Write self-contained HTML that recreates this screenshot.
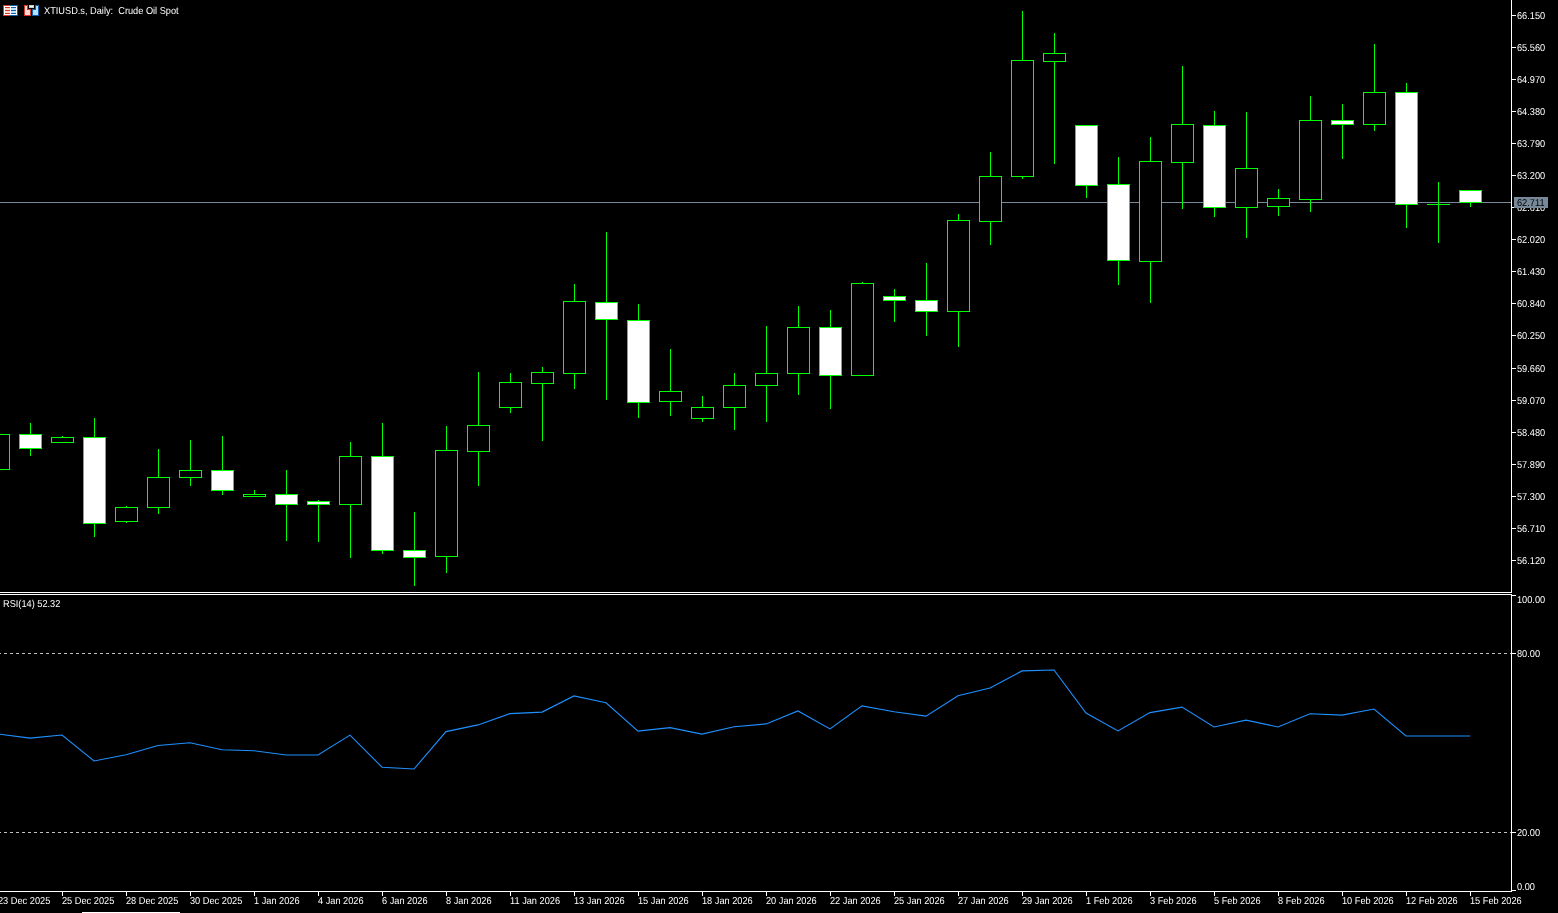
<!DOCTYPE html>
<html lang="en"><head><meta charset="utf-8"><title>XTIUSD.s, Daily: Crude Oil Spot</title>
<style>html,body{margin:0;padding:0;background:#000;overflow:hidden}svg{display:block}text{font-family:"Liberation Sans",sans-serif;font-size:10px;fill:#fff;text-rendering:geometricPrecision}</style></head><body>
<svg width="1558" height="913" viewBox="0 0 1558 913" shape-rendering="crispEdges">
<rect x="0" y="0" width="1558" height="913" fill="#000"/>
<rect x="0" y="202" width="1511" height="1" fill="#778899"/>
<g id="candles">
<rect x="-13" y="434" width="23" height="36" fill="#00ff00"/>
<rect x="-12" y="435" width="21" height="34" fill="#000"/>
<rect x="30" y="423" width="1" height="11" fill="#00ff00"/>
<rect x="30" y="449" width="1" height="7" fill="#00ff00"/>
<rect x="19" y="434" width="23" height="15" fill="#00ff00"/>
<rect x="20" y="435" width="21" height="13" fill="#fff"/>
<rect x="62" y="436" width="1" height="1" fill="#00ff00"/>
<rect x="51" y="437" width="23" height="6" fill="#00ff00"/>
<rect x="52" y="438" width="21" height="4" fill="#000"/>
<rect x="94" y="418" width="1" height="19" fill="#00ff00"/>
<rect x="94" y="524" width="1" height="13" fill="#00ff00"/>
<rect x="83" y="437" width="23" height="87" fill="#00ff00"/>
<rect x="84" y="438" width="21" height="85" fill="#fff"/>
<rect x="126" y="506" width="1" height="1" fill="#00ff00"/>
<rect x="126" y="522" width="1" height="1" fill="#00ff00"/>
<rect x="115" y="507" width="23" height="15" fill="#00ff00"/>
<rect x="116" y="508" width="21" height="13" fill="#000"/>
<rect x="158" y="449" width="1" height="28" fill="#00ff00"/>
<rect x="158" y="508" width="1" height="6" fill="#00ff00"/>
<rect x="147" y="477" width="23" height="31" fill="#00ff00"/>
<rect x="148" y="478" width="21" height="29" fill="#000"/>
<rect x="190" y="440" width="1" height="30" fill="#00ff00"/>
<rect x="190" y="478" width="1" height="8" fill="#00ff00"/>
<rect x="179" y="470" width="23" height="8" fill="#00ff00"/>
<rect x="180" y="471" width="21" height="6" fill="#000"/>
<rect x="222" y="436" width="1" height="34" fill="#00ff00"/>
<rect x="222" y="491" width="1" height="4" fill="#00ff00"/>
<rect x="211" y="470" width="23" height="21" fill="#00ff00"/>
<rect x="212" y="471" width="21" height="19" fill="#fff"/>
<rect x="254" y="490" width="1" height="4" fill="#00ff00"/>
<rect x="243" y="494" width="23" height="3" fill="#00ff00"/>
<rect x="244" y="495" width="21" height="1" fill="#000"/>
<rect x="286" y="470" width="1" height="24" fill="#00ff00"/>
<rect x="286" y="505" width="1" height="36" fill="#00ff00"/>
<rect x="275" y="494" width="23" height="11" fill="#00ff00"/>
<rect x="276" y="495" width="21" height="9" fill="#fff"/>
<rect x="318" y="500" width="1" height="1" fill="#00ff00"/>
<rect x="318" y="505" width="1" height="37" fill="#00ff00"/>
<rect x="307" y="501" width="23" height="4" fill="#00ff00"/>
<rect x="308" y="502" width="21" height="2" fill="#fff"/>
<rect x="350" y="442" width="1" height="14" fill="#00ff00"/>
<rect x="350" y="505" width="1" height="53" fill="#00ff00"/>
<rect x="339" y="456" width="23" height="49" fill="#00ff00"/>
<rect x="340" y="457" width="21" height="47" fill="#000"/>
<rect x="382" y="423" width="1" height="33" fill="#00ff00"/>
<rect x="382" y="551" width="1" height="3" fill="#00ff00"/>
<rect x="371" y="456" width="23" height="95" fill="#00ff00"/>
<rect x="372" y="457" width="21" height="93" fill="#fff"/>
<rect x="414" y="512" width="1" height="38" fill="#00ff00"/>
<rect x="414" y="558" width="1" height="28" fill="#00ff00"/>
<rect x="403" y="550" width="23" height="8" fill="#00ff00"/>
<rect x="404" y="551" width="21" height="6" fill="#fff"/>
<rect x="446" y="426" width="1" height="24" fill="#00ff00"/>
<rect x="446" y="557" width="1" height="16" fill="#00ff00"/>
<rect x="435" y="450" width="23" height="107" fill="#00ff00"/>
<rect x="436" y="451" width="21" height="105" fill="#000"/>
<rect x="478" y="372" width="1" height="53" fill="#00ff00"/>
<rect x="478" y="452" width="1" height="34" fill="#00ff00"/>
<rect x="467" y="425" width="23" height="27" fill="#00ff00"/>
<rect x="468" y="426" width="21" height="25" fill="#000"/>
<rect x="510" y="373" width="1" height="9" fill="#00ff00"/>
<rect x="510" y="408" width="1" height="5" fill="#00ff00"/>
<rect x="499" y="382" width="23" height="26" fill="#00ff00"/>
<rect x="500" y="383" width="21" height="24" fill="#000"/>
<rect x="542" y="367" width="1" height="5" fill="#00ff00"/>
<rect x="542" y="384" width="1" height="57" fill="#00ff00"/>
<rect x="531" y="372" width="23" height="12" fill="#00ff00"/>
<rect x="532" y="373" width="21" height="10" fill="#000"/>
<rect x="574" y="284" width="1" height="17" fill="#00ff00"/>
<rect x="574" y="374" width="1" height="15" fill="#00ff00"/>
<rect x="563" y="301" width="23" height="73" fill="#00ff00"/>
<rect x="564" y="302" width="21" height="71" fill="#000"/>
<rect x="606" y="232" width="1" height="70" fill="#00ff00"/>
<rect x="606" y="320" width="1" height="80" fill="#00ff00"/>
<rect x="595" y="302" width="23" height="18" fill="#00ff00"/>
<rect x="596" y="303" width="21" height="16" fill="#fff"/>
<rect x="638" y="304" width="1" height="16" fill="#00ff00"/>
<rect x="638" y="403" width="1" height="15" fill="#00ff00"/>
<rect x="627" y="320" width="23" height="83" fill="#00ff00"/>
<rect x="628" y="321" width="21" height="81" fill="#fff"/>
<rect x="670" y="349" width="1" height="42" fill="#00ff00"/>
<rect x="670" y="402" width="1" height="14" fill="#00ff00"/>
<rect x="659" y="391" width="23" height="11" fill="#00ff00"/>
<rect x="660" y="392" width="21" height="9" fill="#000"/>
<rect x="702" y="396" width="1" height="11" fill="#00ff00"/>
<rect x="702" y="419" width="1" height="3" fill="#00ff00"/>
<rect x="691" y="407" width="23" height="12" fill="#00ff00"/>
<rect x="692" y="408" width="21" height="10" fill="#000"/>
<rect x="734" y="373" width="1" height="12" fill="#00ff00"/>
<rect x="734" y="408" width="1" height="22" fill="#00ff00"/>
<rect x="723" y="385" width="23" height="23" fill="#00ff00"/>
<rect x="724" y="386" width="21" height="21" fill="#000"/>
<rect x="766" y="326" width="1" height="47" fill="#00ff00"/>
<rect x="766" y="386" width="1" height="36" fill="#00ff00"/>
<rect x="755" y="373" width="23" height="13" fill="#00ff00"/>
<rect x="756" y="374" width="21" height="11" fill="#000"/>
<rect x="798" y="306" width="1" height="21" fill="#00ff00"/>
<rect x="798" y="374" width="1" height="21" fill="#00ff00"/>
<rect x="787" y="327" width="23" height="47" fill="#00ff00"/>
<rect x="788" y="328" width="21" height="45" fill="#000"/>
<rect x="830" y="310" width="1" height="17" fill="#00ff00"/>
<rect x="830" y="376" width="1" height="33" fill="#00ff00"/>
<rect x="819" y="327" width="23" height="49" fill="#00ff00"/>
<rect x="820" y="328" width="21" height="47" fill="#fff"/>
<rect x="862" y="282" width="1" height="1" fill="#00ff00"/>
<rect x="851" y="283" width="23" height="93" fill="#00ff00"/>
<rect x="852" y="284" width="21" height="91" fill="#000"/>
<rect x="894" y="289" width="1" height="7" fill="#00ff00"/>
<rect x="894" y="301" width="1" height="21" fill="#00ff00"/>
<rect x="883" y="296" width="23" height="5" fill="#00ff00"/>
<rect x="884" y="297" width="21" height="3" fill="#fff"/>
<rect x="926" y="263" width="1" height="37" fill="#00ff00"/>
<rect x="926" y="312" width="1" height="24" fill="#00ff00"/>
<rect x="915" y="300" width="23" height="12" fill="#00ff00"/>
<rect x="916" y="301" width="21" height="10" fill="#fff"/>
<rect x="958" y="214" width="1" height="6" fill="#00ff00"/>
<rect x="958" y="312" width="1" height="35" fill="#00ff00"/>
<rect x="947" y="220" width="23" height="92" fill="#00ff00"/>
<rect x="948" y="221" width="21" height="90" fill="#000"/>
<rect x="990" y="152" width="1" height="24" fill="#00ff00"/>
<rect x="990" y="222" width="1" height="23" fill="#00ff00"/>
<rect x="979" y="176" width="23" height="46" fill="#00ff00"/>
<rect x="980" y="177" width="21" height="44" fill="#000"/>
<rect x="1022" y="11" width="1" height="49" fill="#00ff00"/>
<rect x="1022" y="177" width="1" height="2" fill="#00ff00"/>
<rect x="1011" y="60" width="23" height="117" fill="#00ff00"/>
<rect x="1012" y="61" width="21" height="115" fill="#000"/>
<rect x="1054" y="33" width="1" height="20" fill="#00ff00"/>
<rect x="1054" y="62" width="1" height="102" fill="#00ff00"/>
<rect x="1043" y="53" width="23" height="9" fill="#00ff00"/>
<rect x="1044" y="54" width="21" height="7" fill="#000"/>
<rect x="1086" y="186" width="1" height="12" fill="#00ff00"/>
<rect x="1075" y="125" width="23" height="61" fill="#00ff00"/>
<rect x="1076" y="126" width="21" height="59" fill="#fff"/>
<rect x="1118" y="157" width="1" height="27" fill="#00ff00"/>
<rect x="1118" y="261" width="1" height="24" fill="#00ff00"/>
<rect x="1107" y="184" width="23" height="77" fill="#00ff00"/>
<rect x="1108" y="185" width="21" height="75" fill="#fff"/>
<rect x="1150" y="137" width="1" height="24" fill="#00ff00"/>
<rect x="1150" y="262" width="1" height="41" fill="#00ff00"/>
<rect x="1139" y="161" width="23" height="101" fill="#00ff00"/>
<rect x="1140" y="162" width="21" height="99" fill="#000"/>
<rect x="1182" y="66" width="1" height="58" fill="#00ff00"/>
<rect x="1182" y="163" width="1" height="46" fill="#00ff00"/>
<rect x="1171" y="124" width="23" height="39" fill="#00ff00"/>
<rect x="1172" y="125" width="21" height="37" fill="#000"/>
<rect x="1214" y="111" width="1" height="14" fill="#00ff00"/>
<rect x="1214" y="208" width="1" height="9" fill="#00ff00"/>
<rect x="1203" y="125" width="23" height="83" fill="#00ff00"/>
<rect x="1204" y="126" width="21" height="81" fill="#fff"/>
<rect x="1246" y="112" width="1" height="56" fill="#00ff00"/>
<rect x="1246" y="208" width="1" height="30" fill="#00ff00"/>
<rect x="1235" y="168" width="23" height="40" fill="#00ff00"/>
<rect x="1236" y="169" width="21" height="38" fill="#000"/>
<rect x="1278" y="189" width="1" height="9" fill="#00ff00"/>
<rect x="1278" y="207" width="1" height="9" fill="#00ff00"/>
<rect x="1267" y="198" width="23" height="9" fill="#00ff00"/>
<rect x="1268" y="199" width="21" height="7" fill="#000"/>
<rect x="1310" y="96" width="1" height="24" fill="#00ff00"/>
<rect x="1310" y="200" width="1" height="12" fill="#00ff00"/>
<rect x="1299" y="120" width="23" height="80" fill="#00ff00"/>
<rect x="1300" y="121" width="21" height="78" fill="#000"/>
<rect x="1342" y="104" width="1" height="16" fill="#00ff00"/>
<rect x="1342" y="125" width="1" height="34" fill="#00ff00"/>
<rect x="1331" y="120" width="23" height="5" fill="#00ff00"/>
<rect x="1332" y="121" width="21" height="3" fill="#fff"/>
<rect x="1374" y="44" width="1" height="48" fill="#00ff00"/>
<rect x="1374" y="125" width="1" height="6" fill="#00ff00"/>
<rect x="1363" y="92" width="23" height="33" fill="#00ff00"/>
<rect x="1364" y="93" width="21" height="31" fill="#000"/>
<rect x="1406" y="83" width="1" height="9" fill="#00ff00"/>
<rect x="1406" y="205" width="1" height="23" fill="#00ff00"/>
<rect x="1395" y="92" width="23" height="113" fill="#00ff00"/>
<rect x="1396" y="93" width="21" height="111" fill="#fff"/>
<rect x="1438" y="182" width="1" height="22" fill="#00ff00"/>
<rect x="1438" y="205" width="1" height="38" fill="#00ff00"/>
<rect x="1427" y="204" width="23" height="1" fill="#00ff00"/>
<rect x="1470" y="203" width="1" height="4" fill="#00ff00"/>
<rect x="1459" y="190" width="23" height="13" fill="#00ff00"/>
<rect x="1460" y="191" width="21" height="11" fill="#fff"/>
</g>
<rect x="1511" y="0" width="1" height="593" fill="#fff"/>
<rect x="1511" y="594" width="1" height="298" fill="#fff"/>
<rect x="0" y="592" width="1512" height="1" fill="#fff"/>
<rect x="0" y="594" width="1512" height="1" fill="#fff"/>
<rect x="0" y="891" width="1512" height="1" fill="#fff"/>
<g id="price-axis">
<rect x="1512" y="15" width="4" height="1" fill="#fff"/>
<text transform="translate(1517 19) scale(0.9215 1)">66.150</text>
<rect x="1512" y="47" width="4" height="1" fill="#fff"/>
<text transform="translate(1517 51) scale(0.9215 1)">65.560</text>
<rect x="1512" y="79" width="4" height="1" fill="#fff"/>
<text transform="translate(1517 83) scale(0.9215 1)">64.970</text>
<rect x="1512" y="111" width="4" height="1" fill="#fff"/>
<text transform="translate(1517 115) scale(0.9215 1)">64.380</text>
<rect x="1512" y="143" width="4" height="1" fill="#fff"/>
<text transform="translate(1517 147) scale(0.9215 1)">63.790</text>
<rect x="1512" y="175" width="4" height="1" fill="#fff"/>
<text transform="translate(1517 179) scale(0.9215 1)">63.200</text>
<rect x="1512" y="207" width="4" height="1" fill="#fff"/>
<text transform="translate(1517 211) scale(0.9215 1)">62.610</text>
<rect x="1512" y="239" width="4" height="1" fill="#fff"/>
<text transform="translate(1517 243) scale(0.9215 1)">62.020</text>
<rect x="1512" y="271" width="4" height="1" fill="#fff"/>
<text transform="translate(1517 275) scale(0.9215 1)">61.430</text>
<rect x="1512" y="303" width="4" height="1" fill="#fff"/>
<text transform="translate(1517 307) scale(0.9215 1)">60.840</text>
<rect x="1512" y="335" width="4" height="1" fill="#fff"/>
<text transform="translate(1517 339) scale(0.9215 1)">60.250</text>
<rect x="1512" y="368" width="4" height="1" fill="#fff"/>
<text transform="translate(1517 372) scale(0.9215 1)">59.660</text>
<rect x="1512" y="400" width="4" height="1" fill="#fff"/>
<text transform="translate(1517 404) scale(0.9215 1)">59.070</text>
<rect x="1512" y="432" width="4" height="1" fill="#fff"/>
<text transform="translate(1517 436) scale(0.9215 1)">58.480</text>
<rect x="1512" y="464" width="4" height="1" fill="#fff"/>
<text transform="translate(1517 468) scale(0.9215 1)">57.890</text>
<rect x="1512" y="496" width="4" height="1" fill="#fff"/>
<text transform="translate(1517 500) scale(0.9215 1)">57.300</text>
<rect x="1512" y="528" width="4" height="1" fill="#fff"/>
<text transform="translate(1517 532) scale(0.9215 1)">56.710</text>
<rect x="1512" y="560" width="4" height="1" fill="#fff"/>
<text transform="translate(1517 564) scale(0.9215 1)">56.120</text>
</g>
<rect x="1514" y="197" width="34" height="11" fill="#778899"/>
<text transform="translate(1517 206) scale(0.9215 1)" style="fill:#000">62.711</text>
<g id="rsi-axis">
<rect x="1512" y="595" width="4" height="1" fill="#fff"/>
<text transform="translate(1517 603) scale(0.9215 1)">100.00</text>
<rect x="1512" y="653" width="4" height="1" fill="#fff"/>
<text transform="translate(1517 657) scale(0.9215 1)">80.00</text>
<rect x="1512" y="832" width="4" height="1" fill="#fff"/>
<text transform="translate(1517 836) scale(0.9215 1)">20.00</text>
<rect x="1512" y="890" width="4" height="1" fill="#fff"/>
<text transform="translate(1517 890) scale(0.9215 1)">0.00</text>
</g>
<line x1="-2" y1="653.5" x2="1511" y2="653.5" stroke="#c0c0c0" stroke-width="1" stroke-dasharray="3 3"/>
<line x1="-2" y1="832.5" x2="1511" y2="832.5" stroke="#c0c0c0" stroke-width="1" stroke-dasharray="3 3"/>
<polyline points="-2,734.0 30,738.1 62,735.0 94,761.0 126,754.8 158,745.5 190,742.8 222,749.8 254,750.8 286,755.0 318,755.0 350,735.1 382,767.2 414,769.0 446,731.6 478,724.9 510,713.6 542,712.1 574,695.9 606,702.75 638,731.1 670,727.6 702,734.1 734,726.8 766,723.9 798,710.9 830,728.95 862,705.9 894,711.8 926,716.1 958,695.7 990,688.1 1022,670.9 1054,670.0 1086,713.1 1118,730.95 1150,712.6 1182,707.1 1214,726.95 1246,720.1 1278,726.95 1310,713.8 1342,715.1 1374,709.0 1406,735.96 1438,735.96 1470,735.96" fill="none" stroke="#1e90ff" stroke-width="1.1" shape-rendering="geometricPrecision"/>
<g id="date-axis">
<rect x="-2" y="892" width="1" height="4" fill="#fff"/>
<text transform="translate(-2 904) scale(0.9215 1)">23 Dec 2025</text>
<rect x="62" y="892" width="1" height="4" fill="#fff"/>
<text transform="translate(62 904) scale(0.9215 1)">25 Dec 2025</text>
<rect x="126" y="892" width="1" height="4" fill="#fff"/>
<text transform="translate(126 904) scale(0.9215 1)">28 Dec 2025</text>
<rect x="190" y="892" width="1" height="4" fill="#fff"/>
<text transform="translate(190 904) scale(0.9215 1)">30 Dec 2025</text>
<rect x="254" y="892" width="1" height="4" fill="#fff"/>
<text transform="translate(254 904) scale(0.9215 1)">1 Jan 2026</text>
<rect x="318" y="892" width="1" height="4" fill="#fff"/>
<text transform="translate(318 904) scale(0.9215 1)">4 Jan 2026</text>
<rect x="382" y="892" width="1" height="4" fill="#fff"/>
<text transform="translate(382 904) scale(0.9215 1)">6 Jan 2026</text>
<rect x="446" y="892" width="1" height="4" fill="#fff"/>
<text transform="translate(446 904) scale(0.9215 1)">8 Jan 2026</text>
<rect x="510" y="892" width="1" height="4" fill="#fff"/>
<text transform="translate(510 904) scale(0.9215 1)">11 Jan 2026</text>
<rect x="574" y="892" width="1" height="4" fill="#fff"/>
<text transform="translate(574 904) scale(0.9215 1)">13 Jan 2026</text>
<rect x="638" y="892" width="1" height="4" fill="#fff"/>
<text transform="translate(638 904) scale(0.9215 1)">15 Jan 2026</text>
<rect x="702" y="892" width="1" height="4" fill="#fff"/>
<text transform="translate(702 904) scale(0.9215 1)">18 Jan 2026</text>
<rect x="766" y="892" width="1" height="4" fill="#fff"/>
<text transform="translate(766 904) scale(0.9215 1)">20 Jan 2026</text>
<rect x="830" y="892" width="1" height="4" fill="#fff"/>
<text transform="translate(830 904) scale(0.9215 1)">22 Jan 2026</text>
<rect x="894" y="892" width="1" height="4" fill="#fff"/>
<text transform="translate(894 904) scale(0.9215 1)">25 Jan 2026</text>
<rect x="958" y="892" width="1" height="4" fill="#fff"/>
<text transform="translate(958 904) scale(0.9215 1)">27 Jan 2026</text>
<rect x="1022" y="892" width="1" height="4" fill="#fff"/>
<text transform="translate(1022 904) scale(0.9215 1)">29 Jan 2026</text>
<rect x="1086" y="892" width="1" height="4" fill="#fff"/>
<text transform="translate(1086 904) scale(0.9215 1)">1 Feb 2026</text>
<rect x="1150" y="892" width="1" height="4" fill="#fff"/>
<text transform="translate(1150 904) scale(0.9215 1)">3 Feb 2026</text>
<rect x="1214" y="892" width="1" height="4" fill="#fff"/>
<text transform="translate(1214 904) scale(0.9215 1)">5 Feb 2026</text>
<rect x="1278" y="892" width="1" height="4" fill="#fff"/>
<text transform="translate(1278 904) scale(0.9215 1)">8 Feb 2026</text>
<rect x="1342" y="892" width="1" height="4" fill="#fff"/>
<text transform="translate(1342 904) scale(0.9215 1)">10 Feb 2026</text>
<rect x="1406" y="892" width="1" height="4" fill="#fff"/>
<text transform="translate(1406 904) scale(0.9215 1)">12 Feb 2026</text>
<rect x="1470" y="892" width="1" height="4" fill="#fff"/>
<text transform="translate(1470 904) scale(0.9215 1)">15 Feb 2026</text>
</g>
<rect x="82" y="912" width="98" height="1" fill="#fff"/>
<g id="icons">
<rect x="3" y="5" width="7" height="11" fill="#d9342b"/>
<rect x="10" y="5" width="8" height="11" fill="#0f5fa8"/>
<rect x="4" y="6" width="13" height="9" fill="#fff"/>
<rect x="5" y="7" width="5" height="7" fill="#ffd9cc"/>
<rect x="11" y="7" width="5" height="7" fill="#bfe3ff"/>
<rect x="5" y="7" width="5" height="1" fill="#d9342b"/>
<rect x="11" y="7" width="5" height="1" fill="#0f5fa8"/>
<rect x="5" y="10" width="5" height="1" fill="#d9342b"/>
<rect x="11" y="10" width="5" height="1" fill="#0f5fa8"/>
<rect x="5" y="13" width="5" height="1" fill="#d9342b"/>
<rect x="11" y="13" width="5" height="1" fill="#0f5fa8"/>
<path d="M24 5h4v4h3v7h-7z" fill="#d9342b"/><path d="M25 6h2v4h3v5h-5z" fill="#ffdcd0"/>
<path d="M35 5h4v11h-7v-7h3z" fill="#0f5fa8"/><path d="M36 6h2v9h-5v-5h3z" fill="#b9dfff"/>
<rect x="29" y="5" width="5" height="3" fill="#c8c8c8"/>
<rect x="30" y="6" width="3" height="1" fill="#fff"/>
</g>
<text transform="translate(44 14) scale(0.9215 1)">XTIUSD.s, Daily:&#160; Crude Oil Spot</text>
<text transform="translate(3 607) scale(0.9215 1)">RSI(14) 52.32</text>
</svg></body></html>
